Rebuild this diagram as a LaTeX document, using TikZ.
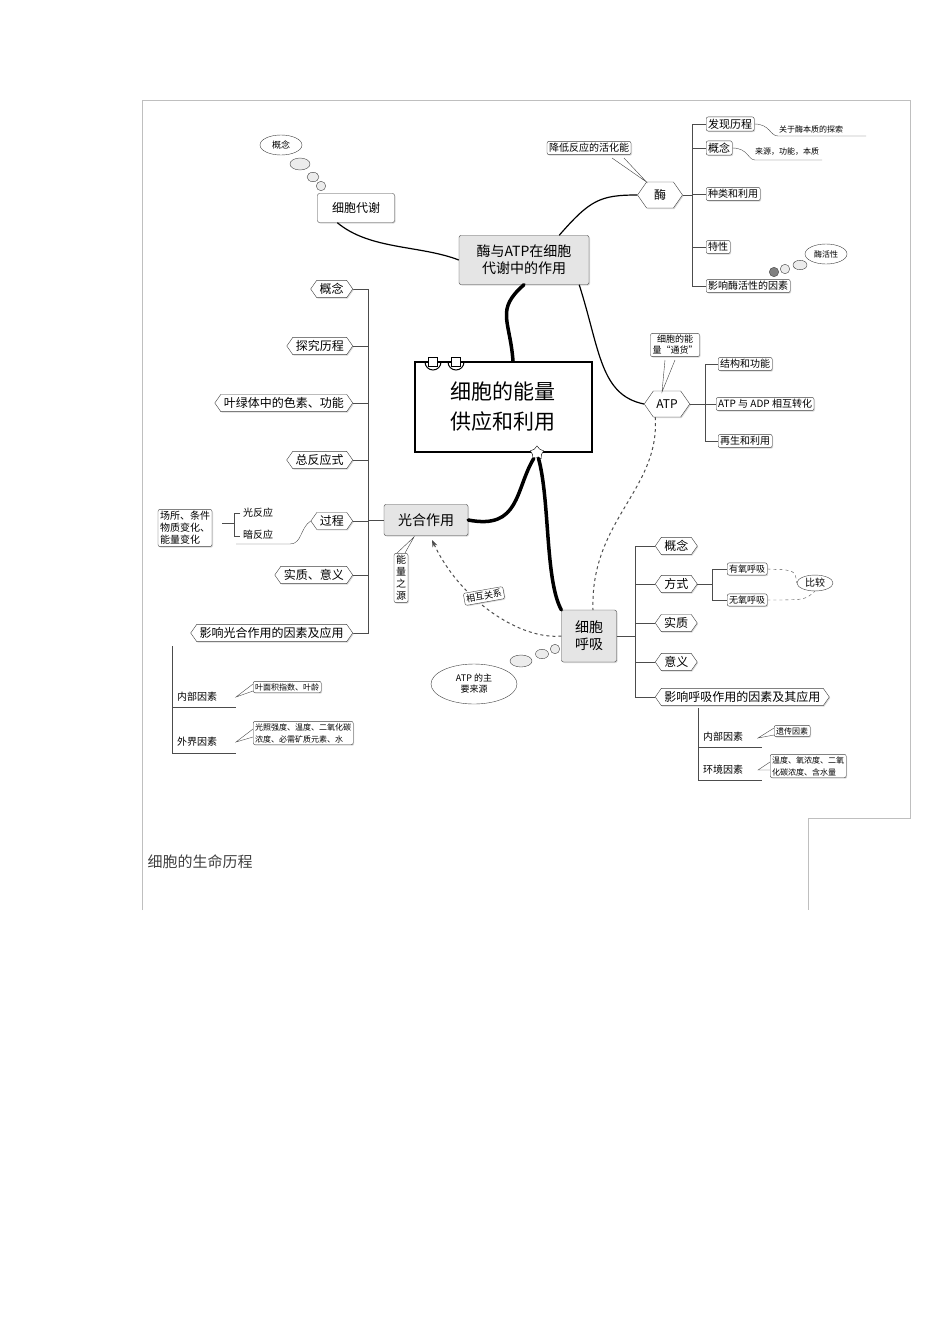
\documentclass[tikz,border=0pt]{standalone}
\usepackage{fontspec}
\setmainfont{Noto Sans CJK SC}
\usetikzlibrary{shapes.symbols,shapes.geometric,shadows,arrows.meta,calc}
\tikzset{
 bx/.style={draw=black!75,rounded corners=2pt,fill=white,drop shadow={shadow xshift=1pt,shadow yshift=-1pt,fill=gray!60},inner sep=2pt,font=\fontsize{10}{12}\selectfont},
 gbx/.style={bx,fill=gray!20,font=\fontsize{14}{17}\selectfont},
 hx/.style={draw=black!75,signal,signal to=west and east,signal pointer angle=110,fill=white,drop shadow={shadow xshift=1pt,shadow yshift=-1pt,fill=gray!60},inner sep=3pt,font=\fontsize{12}{14}\selectfont},
 el/.style={draw=black!75,ellipse,inner sep=1pt,fill=white},
 bub/.style={draw=black!75,ellipse,fill=gray!15},
 ln/.style={draw=black!70,line width=1pt},
 thk/.style={line width=3.5pt,line cap=round},
 thn/.style={line width=1.2pt},
 dsh/.style={dashed,line width=1pt,black!70},
 sm/.style={font=\fontsize{9}{11}\selectfont,inner sep=1pt},
}
\begin{document}
\begin{tikzpicture}[x=1pt,y=-1pt]
\useasboundingbox (0,0) rectangle (950,1344);
% frame
\draw[black!25,line width=0.8pt] (142,910) -- (142,100) -- (910,100) -- (910,818) -- (808,818) -- (808,910);
\node[anchor=west,font=\fontsize{15}{18}\selectfont,text=black!75] (title) at (144,862) {细胞的生命历程};

% center
\node[draw,line width=2pt,minimum width=177pt,minimum height=90pt,align=center,font=\fontsize{21}{30}\selectfont,fill=white] (c) at (503,407) {细胞的能量\\供应和利用};
\foreach \xx in {433,456}{\draw[line width=1pt] (\xx-8,362) arc (180:0:8); \node[draw,fill=white,minimum size=9pt,inner sep=0] (r\xx) at (\xx,362) {};}
\node[star,star points=5,draw,fill=white,minimum size=14pt,inner sep=0] (st) at (537,453) {};

% main branches
\node[gbx,align=center,minimum width=130pt,minimum height=49pt] (ea) at (524,260) {酶与ATP在细胞\\代谢中的作用};
\node[gbx,minimum width=84pt,minimum height=31pt] (gh) at (426,520) {光合作用};
\node[gbx,align=center,minimum width=55pt,minimum height=52pt] (hx) at (589,636) {细胞\\呼吸};
\draw[thk] ($(c.north)+(10,0)$) .. controls (510,320) and (495,310) .. (ea.south);
\draw[thk] (st) .. controls (515,490) and (520,530) .. (gh.east);
\draw[thk] (st) .. controls (550,500) and (545,580) .. (hx.north west);

% 细胞代谢
\node[bx,minimum width=77pt,minimum height=29pt,font=\fontsize{12}{14}\selectfont] (dx) at (356,208) {细胞代谢};
\draw[thn] ($(dx.south west)+(20,0)$) .. controls (370,250) and (420,245) .. (ea.west);
\node[el,minimum width=42pt,minimum height=20pt,sm] (gn0) at (281,145) {概念};
\node[bub,minimum width=20pt,minimum height=12pt] (b1) at (300,164) {};
\node[bub,minimum width=12pt,minimum height=8pt] (b2) at (313,177) {};
\node[bub,minimum width=7pt,minimum height=5pt] (b3) at (321,186) {};

% 酶
\node[hx,minimum width=45pt,minimum height=26pt] (mei) at (660,195) {酶};
\draw[thn] ($(ea.north east)+(-30,0)$) .. controls (590,200) and (600,195) .. (mei.west);
\node[bx] (jd) at (589,148) {降低反应的活化能};
\draw[black!75,fill=white] (612,158) -- (mei.north west) -- (624,158);
\draw[ln] (mei.east) -- (692,195);
\draw[ln] (706,124) -- (692,124) -- (692,286) -- (706,286);
\node[bx,anchor=west,font=\fontsize{11}{13}\selectfont] (m1) at (706,124) {发现历程};
\node[bx,anchor=west,font=\fontsize{11}{13}\selectfont] (m2) at (706,148) {概念};
\node[bx,anchor=west] (m3) at (706,194) {种类和利用};
\node[bx,anchor=west] (m4) at (706,247) {特性};
\node[bx,anchor=west] (m5) at (706,286) {影响酶活性的因素};
\foreach \n in {m2,m3,m4}{\draw[ln] (692,0 |- \n.west) -- (\n.west);}
\node[sm,anchor=west,font=\fontsize{8}{10}\selectfont] (m1t) at (778,129) {关于酶本质的探索};
\draw[black!70] (m1.east) .. controls (770,124) and (770,136) .. (778,136) -- (866,136);
\node[sm,anchor=west,font=\fontsize{8}{10}\selectfont] (m2t) at (754,152) {来源，功能，本质};
\draw[black!70] (m2.east) .. controls (748,148) and (748,160) .. (755,160) -- (822,160);
\node[el,minimum width=42pt,minimum height=20pt,sm,font=\fontsize{8}{10}\selectfont] (mhx) at (826,254) {酶活性};
\node[bub,minimum width=14pt,minimum height=8pt] (c1) at (800,265) {};
\node[bub,minimum width=9pt,minimum height=6pt] (c2) at (785,269) {};
\node[bub,minimum width=5pt,minimum height=4pt,fill=gray] (c3) at (774,272) {};

% ATP
\node[hx,minimum width=44pt,minimum height=26pt] (atp) at (667,404) {ATP};
\draw[thn] ($(ea.south east)+(-10,0)$) .. controls (600,350) and (600,395) .. (atp.west);
\node[bx,align=center,font=\fontsize{9}{11}\selectfont] (tb) at (675,345) {细胞的能\\量“通货”};
\draw[black!75,fill=white] (665,360) -- (662,392) -- (675,360);
\draw[ln] (atp.east) -- (705,404);
\draw[ln] (718,364) -- (705,364) -- (705,441) -- (718,441);
\node[bx,anchor=west] (a1) at (718,364) {结构和功能};
\node[bx,anchor=west] (a2) at (716,404) {ATP 与 ADP 相互转化};
\node[bx,anchor=west] (a3) at (718,441) {再生和利用};
\draw[ln] (705,404) -- (a2.west);

% dashed ATP -> 呼吸
\draw[dsh] ($(atp.south west)+(2,0)$) .. controls (660,490) and (590,520) .. (593,610);

% 光合作用 left
\draw[ln] (gh.west) -- (368,520);
\draw[ln] (353,289) -- (368,289) -- (368,633) -- (353,633);
\node[hx,anchor=east] (p1) at (353,289) {概念};
\node[hx,anchor=east] (p2) at (353,346) {探究历程};
\node[hx,anchor=east] (p3) at (353,403) {叶绿体中的色素、功能};
\node[hx,anchor=east] (p4) at (353,460) {总反应式};
\node[hx,anchor=east] (p5) at (353,521) {过程};
\node[hx,anchor=east] (p6) at (353,575) {实质、意义};
\node[hx,anchor=east] (p7) at (353,633) {影响光合作用的因素及应用};
\foreach \n in {p2,p3,p4,p5,p6}{\draw[ln] (\n.east) -- (368,0 |- \n.east);}
\node[sm,font=\fontsize{10}{12}\selectfont,anchor=west] (gf) at (242,513) {光反应};
\node[sm,font=\fontsize{10}{12}\selectfont,anchor=west] (af) at (242,535) {暗反应};
\draw[black!70] (236,544) -- (290,544) .. controls (302,544) and (300,528) .. (p5.west);
\draw[black!70] (240,513) -- (234,513) -- (234,536) -- (240,536);
\draw[black!70] (222,523) -- (234,523);
\node[bx,align=left,font=\fontsize{10}{12}\selectfont,inner sep=2pt] (cs) at (185,528) {场所、条件\\物质变化、\\能量变化};
\node[bx,align=center,font=\fontsize{10}{12}\selectfont,inner sep=2pt] (ny) at (401,578) {能\\量\\之\\源};
\draw[black!75,fill=white] (397,553) -- (414,537) -- (405,553);
\draw[ln] (172,646) -- (172,753);
\draw[ln] (172,707) -- (236,707); \draw[ln] (172,753) -- (236,753);
\node[sm,font=\fontsize{10}{12}\selectfont,anchor=west] (nb) at (176,697) {内部因素};
\node[sm,font=\fontsize{10}{12}\selectfont,anchor=west] (wj) at (176,742) {外界因素};
\node[bx,anchor=west,font=\fontsize{8}{10}\selectfont] (nbt) at (253,687) {叶面积指数、叶龄};
\node[bx,anchor=west,align=left,font=\fontsize{8}{12}\selectfont] (wjt) at (253,733) {光照强度、温度、二氧化碳\\浓度、必需矿质元素、水};
\draw[black!70] ($(nbt.west)+(0,-3)$) -- (236,697) -- ($(nbt.west)+(0,4)$);
\draw[black!70] ($(wjt.west)+(0,-4)$) -- (236,742) -- ($(wjt.west)+(0,4)$);

% 相互关系 dashed
\draw[dsh,-{Stealth[length=7pt]}] (hx.west) .. controls (520,640) and (460,600) .. (432,540);
\node[bx,rotate=10,font=\fontsize{9}{11}\selectfont] (xh) at (484,596) {相互关系};
\node[el,align=center,minimum width=86pt,minimum height=40pt,font=\fontsize{9}{11}\selectfont] (zy) at (474,684) {ATP 的主\\要来源};
\node[bub,minimum width=22pt,minimum height=12pt] (d1) at (521,661) {};
\node[bub,minimum width=13pt,minimum height=8pt] (d2) at (542,654) {};
\node[bub,minimum width=7pt,minimum height=5pt] (d3) at (555,649) {};

% 呼吸 right
\draw[ln] (hx.east) -- (635,636);
\draw[ln] (655,546) -- (635,546) -- (635,697) -- (655,697);
\node[hx,anchor=west] (h1) at (655,546) {概念};
\node[hx,anchor=west] (h2) at (655,584) {方式};
\node[hx,anchor=west] (h3) at (655,623) {实质};
\node[hx,anchor=west] (h4) at (655,662) {意义};
\node[hx,anchor=west] (h5) at (655,697) {影响呼吸作用的因素及其应用};
\foreach \n in {h2,h3,h4}{\draw[ln] (635,0 |- \n.west) -- (\n.west);}
\node[bx,anchor=west,font=\fontsize{9}{11}\selectfont] (yy) at (727,569) {有氧呼吸};
\node[bx,anchor=west,font=\fontsize{9}{11}\selectfont] (wy) at (727,600) {无氧呼吸};
\draw[ln] (h2.east) -- (712,584);
\draw[ln] (yy.west) -- (712,569) -- (712,600) -- (wy.west);
\node[el,font=\fontsize{10}{12}\selectfont,minimum width=36pt] (bj) at (815,583) {比较};
\draw[dsh,thin] (yy.east) .. controls (795,570) .. (bj.west);
\draw[dsh,thin] (wy.east) .. controls (805,600) .. (bj.south);
\draw[ln] (698,708) -- (698,780);
\draw[ln] (698,747) -- (762,747); \draw[ln] (698,780) -- (762,780);
\node[sm,font=\fontsize{10}{12}\selectfont,anchor=west] (hn) at (702,737) {内部因素};
\node[sm,font=\fontsize{10}{12}\selectfont,anchor=west] (hw) at (702,770) {环境因素};
\node[bx,anchor=west,font=\fontsize{8}{10}\selectfont] (hnt) at (774,731) {遗传因素};
\node[bx,anchor=west,align=left,font=\fontsize{8}{12}\selectfont] (hwt) at (770,766) {温度、氧浓度、二氧\\化碳浓度、含水量};
\draw[black!70] ($(hnt.west)+(0,-3)$) -- (758,738) -- ($(hnt.west)+(0,4)$);
\draw[black!70] ($(hwt.west)+(0,-4)$) -- (758,770) -- ($(hwt.west)+(0,4)$);
\end{tikzpicture}
\end{document}
